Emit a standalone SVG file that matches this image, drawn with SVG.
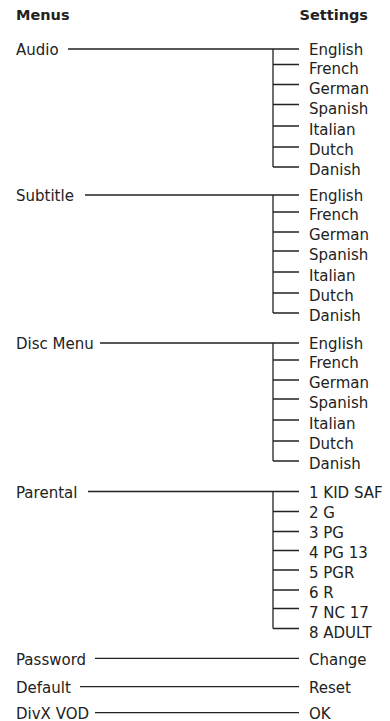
<svg xmlns="http://www.w3.org/2000/svg" width="390" height="721" viewBox="0 0 390 721">
<style>
text{font-family:"DejaVu Sans","Liberation Sans",sans-serif;font-size:15px;fill:#222}
.h{font-weight:bold;font-size:14.5px}
.c line,.c path{stroke:#222;stroke-width:1.3;fill:none}
</style>
<rect width="390" height="721" fill="#fff"/>
<g id="headers">
<text class="h" x="16" y="19.5">Menus</text>
<text class="h" x="368" y="19.5" text-anchor="end">Settings</text>
</g>
<g class="c" id="connectors">
<path d="M68 49H299M273 49V167M273 64.5H299M273 84.5H299M273 104.5H299M273 126H299M273 147H299M273 167H299"/>
<path d="M85 195H299M273 195V313M273 212H299M273 232H299M273 251H299M273 272H299M273 293H299M273 313H299"/>
<path d="M100 343H299M273 343V461M273 360H299M273 380H299M273 399H299M273 420H299M273 441H299M273 461H299"/>
<path d="M88 491.5H299M273 491.5V628.5M273 511.5H299M273 531.5H299M273 550.5H299M273 570H299M273 590H299M273 608.5H299M273 628.5H299"/>
<line x1="95" y1="658.3" x2="299" y2="658.3"/>
<line x1="80" y1="686.7" x2="299" y2="686.7"/>
<line x1="95" y1="712.7" x2="299" y2="712.7"/>
</g>
<g id="audio">
<text x="16" y="55">Audio</text>
<text x="309" y="55">English</text><text x="309" y="74">French</text><text x="309" y="94">German</text><text x="309" y="114">Spanish</text><text x="309" y="135">Italian</text><text x="309" y="155">Dutch</text><text x="309" y="175">Danish</text>
</g>
<g id="subtitle">
<text x="16" y="201">Subtitle</text>
<text x="309" y="201">English</text><text x="309" y="220">French</text><text x="309" y="240">German</text><text x="309" y="260">Spanish</text><text x="309" y="281">Italian</text><text x="309" y="301">Dutch</text><text x="309" y="321">Danish</text>
</g>
<g id="discmenu">
<text x="16" y="349">Disc Menu</text>
<text x="309" y="349">English</text><text x="309" y="368">French</text><text x="309" y="388">German</text><text x="309" y="408">Spanish</text><text x="309" y="429">Italian</text><text x="309" y="449">Dutch</text><text x="309" y="469">Danish</text>
</g>
<g id="parental">
<text x="16" y="497.5">Parental</text>
<text x="309" y="497.5">1 KID SAF</text><text x="309" y="517.5">2 G</text><text x="309" y="537.5">3 PG</text><text x="309" y="557.5">4 PG 13</text><text x="309" y="577.5">5 PGR</text><text x="309" y="597.5">6 R</text><text x="309" y="617.5">7 NC 17</text><text x="309" y="637.5">8 ADULT</text>
</g>
<g id="password">
<text x="16" y="664.5">Password</text><text x="309" y="664.5">Change</text>
</g>
<g id="default">
<text x="16" y="693">Default</text><text x="309" y="693">Reset</text>
</g>
<g id="divx">
<text x="16" y="718.5">DivX VOD</text><text x="309" y="718.5">OK</text>
</g>
</svg>
